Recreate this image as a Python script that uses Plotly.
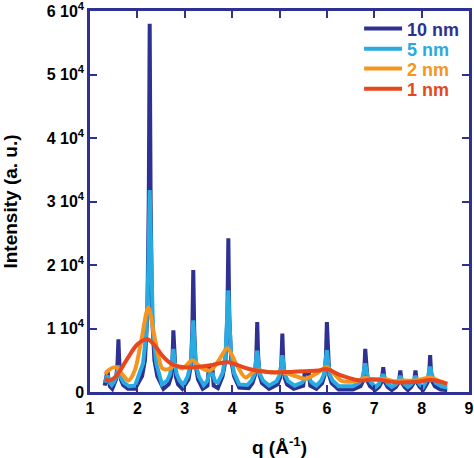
import plotly.graph_objects as go

# ---- data (q in 1/Å, intensity in a.u.) ----
q_10nm = [1.31, 1.33, 1.35, 1.37, 1.39, 1.42, 1.47,
          1.50, 1.55, 1.58, 1.60, 1.62, 1.65, 1.70, 1.80, 1.95,
          2.10, 2.16, 2.21, 2.24, 2.26, 2.28, 2.31, 2.36, 2.42, 2.55,
          2.66, 2.71, 2.74, 2.76, 2.78, 2.81, 2.86, 2.95,
          3.08, 3.13, 3.16, 3.18, 3.20, 3.23, 3.28, 3.38,
          3.48, 3.51, 3.58, 3.61, 3.70,
          3.80, 3.86, 3.90, 3.92, 3.94, 3.98, 4.04, 4.15, 4.35,
          4.43, 4.48, 4.51, 4.53, 4.55, 4.58, 4.63, 4.78,
          4.96, 5.01, 5.04, 5.06, 5.08, 5.11, 5.16, 5.30,
          5.50, 5.53, 5.62, 5.65, 5.78,
          5.90, 5.95, 5.98, 6.00, 6.02, 6.05, 6.10, 6.25, 6.55,
          6.71, 6.76, 6.79, 6.81, 6.83, 6.86, 6.91, 7.02,
          7.10, 7.15, 7.17, 7.19, 7.21, 7.23, 7.28, 7.37,
          7.46, 7.51, 7.53, 7.55, 7.57, 7.59, 7.64, 7.71,
          7.78, 7.83, 7.85, 7.87, 7.89, 7.91, 7.96, 8.03,
          8.08, 8.13, 8.16, 8.18, 8.20, 8.23, 8.28, 8.40, 8.54]
i_10nm = [1000, 1800, 2600, 3400, 2000, 900, 500,
          1100, 2000, 4400, 8300, 4400, 2000, 1100, 500, 500,
          2500, 5000, 12000, 30000, 58000, 30000, 12000, 5000, 2500, 500,
          1200, 2400, 5000, 9700, 5000, 2400, 1200, 500,
          2000, 4200, 9800, 19200, 9800, 4200, 2000, 500,
          1000, 4000, 4200, 1000, 600,
          2500, 5000, 12000, 24200, 12000, 5000, 2500, 700, 600,
          1400, 2600, 5600, 11000, 5600, 2600, 1400, 500,
          1200, 2200, 4800, 9200, 4800, 2200, 1200, 500,
          1000, 2900, 2900, 1000, 500,
          1400, 2600, 5600, 11000, 5600, 2600, 1400, 400, 400,
          900, 1700, 3500, 6800, 3500, 1700, 900, 300,
          800, 1500, 2500, 3900, 2500, 1500, 800, 300,
          800, 1400, 2200, 3400, 2200, 1400, 800, 300,
          800, 1400, 2200, 3400, 2200, 1400, 800, 300,
          900, 1600, 3000, 5800, 3000, 1600, 900, 400, 300]

q_5nm = [1.31, 1.34, 1.37, 1.41, 1.46,
         1.50, 1.55, 1.58, 1.60, 1.62, 1.65, 1.71, 1.82, 1.95,
         2.12, 2.19, 2.23, 2.26, 2.29, 2.33, 2.40, 2.52,
         2.63, 2.69, 2.73, 2.76, 2.79, 2.83, 2.89, 2.97,
         3.06, 3.12, 3.15, 3.18, 3.21, 3.24, 3.30, 3.40,
         3.47, 3.52, 3.59, 3.64, 3.70,
         3.80, 3.86, 3.89, 3.92, 3.95, 3.98, 4.04, 4.15, 4.32,
         4.41, 4.47, 4.50, 4.53, 4.56, 4.59, 4.65, 4.78,
         4.94, 5.00, 5.03, 5.06, 5.09, 5.12, 5.18, 5.32,
         5.48, 5.53, 5.63, 5.68, 5.78,
         5.88, 5.94, 5.97, 6.00, 6.03, 6.06, 6.12, 6.25, 6.55,
         6.69, 6.75, 6.78, 6.81, 6.84, 6.87, 6.93, 7.03,
         7.10, 7.15, 7.19, 7.23, 7.28, 7.37,
         7.46, 7.51, 7.55, 7.59, 7.64, 7.71,
         7.78, 7.83, 7.87, 7.91, 7.96, 8.03,
         8.07, 8.13, 8.15, 8.18, 8.21, 8.24, 8.30, 8.42, 8.54]
i_5nm = [1500, 2100, 2600, 1600, 1100,
         1500, 2300, 3400, 4200, 3400, 2300, 1500, 900, 1000,
         4500, 9500, 19000, 31800, 19000, 9500, 4500, 1200,
         1800, 2800, 4500, 6800, 4500, 2800, 1800, 1100,
         2400, 4200, 7000, 11300, 7000, 4200, 2400, 1100,
         1700, 2800, 2800, 1700, 1500,
         3000, 5800, 10000, 16000, 10000, 5800, 3000, 1200, 1100,
         1800, 2800, 4300, 6500, 4300, 2800, 1800, 1000,
         1700, 2600, 3900, 5800, 3900, 2600, 1700, 1000,
         1500, 2100, 2100, 1500, 1000,
         1800, 2800, 4400, 6600, 4400, 2800, 1800, 900, 900,
         1500, 2200, 3200, 4500, 3200, 2200, 1500, 800,
         1300, 2000, 2800, 2000, 1300, 800,
         1200, 1800, 2500, 1800, 1200, 800,
         1200, 1800, 2500, 1800, 1200, 800,
         1400, 2200, 3000, 4000, 3000, 2200, 1400, 900, 700]

q_2nm = [1.32, 1.40, 1.55, 1.68, 1.81, 1.95, 2.08, 2.23, 2.38, 2.53, 2.65, 2.80, 2.95, 3.16, 3.35, 3.54, 3.72, 3.90,
         4.08, 4.28, 4.50, 4.80, 5.06, 5.30, 5.55, 5.80, 6.00, 6.30, 6.60, 6.81, 7.00, 7.20, 7.40, 7.60, 7.87, 8.18,
         8.35, 8.54]
i_2nm = [2800, 3500, 3900, 2800, 1800, 3500, 8000, 13300, 8000, 3700, 3600, 4200, 3700, 5000, 3800, 3400, 5000, 6900,
         4500, 2300, 3400, 3100, 3100, 2600, 2100, 3000, 3900, 1800, 1700, 2200, 1900, 2100, 1700, 1800, 1800, 2300,
         1800, 1200]

q_1nm = [1.32, 1.40, 1.55, 1.81, 2.00, 2.21, 2.40, 2.53, 2.75, 3.00, 3.20, 3.54, 3.90, 4.32, 4.80, 5.30, 5.82, 6.00,
         6.30, 6.70, 7.00, 7.50, 7.90, 8.20, 8.54]
i_1nm = [2100, 1800, 2500, 5500, 7500, 8300, 7000, 5700, 4300, 3900, 3900, 4200, 4700, 3700, 3100, 3200, 3400, 3600,
         2600, 1800, 2000, 1500, 1600, 1900, 1300]

y_tickvals = [0, 10000, 20000, 30000, 40000, 50000, 60000]
y_ticktext = ["0", "1 10<sup>4</sup>", "2 10<sup>4</sup>", "3 10<sup>4</sup>", "4 10<sup>4</sup>", "5 10<sup>4</sup>", "6 10<sup>4</sup>"]
x_tickvals = [1, 2, 3, 4, 5, 6, 7, 8, 9]

C10 = "#2e3192"
C5 = "#29abe2"
C2 = "#f7941d"
C1 = "#e8461e"
FRAME = "#2e3192"
FONT = "Liberation Sans, Arial, sans-serif"

fig = go.Figure()
fig.add_trace(go.Scatter(x=q_10nm, y=i_10nm, mode="lines", line=dict(color=C10, width=4),
                         name=f"<span style='color:{C10}'><b>10 nm</b></span>", legend="legend"))
fig.add_trace(go.Scatter(x=q_5nm, y=i_5nm, mode="lines", line=dict(color=C5, width=4),
                         name=f"<span style='color:{C5}'><b>5 nm</b></span>", legend="legend2"))
fig.add_trace(go.Scatter(x=q_2nm, y=i_2nm, mode="lines", line=dict(color=C2, width=4, shape="spline", smoothing=0.8),
                         name=f"<span style='color:{C2}'><b>2 nm</b></span>", legend="legend3"))
fig.add_trace(go.Scatter(x=q_1nm, y=i_1nm, mode="lines", line=dict(color=C1, width=4, shape="spline", smoothing=1.0),
                         name=f"<span style='color:{C1}'><b>1 nm</b></span>", legend="legend4"))

def leg(y):
    return dict(x=0.71, y=y, xanchor="left", yanchor="middle", bgcolor="rgba(0,0,0,0)",
                font=dict(size=18, family=FONT), itemwidth=38)

fig.update_layout(
    width=474, height=458,
    margin=dict(l=90, r=5, t=11, b=66, autoexpand=False),
    paper_bgcolor="white", plot_bgcolor="white",
    font=dict(family=FONT, color="black"),
    showlegend=True,
    legend=leg(0.953), legend2=leg(0.900), legend3=leg(0.848), legend4=leg(0.795),
)
fig.update_xaxes(range=[1, 9], tickvals=x_tickvals, showgrid=False, zeroline=False, automargin=False,
                 showline=True, mirror="allticks", linecolor=FRAME, linewidth=2.5,
                 ticks="inside", ticklen=7, tickwidth=1.5, tickcolor=FRAME,
                 tickfont=dict(size=16, family=FONT, weight="bold"),
                 title=dict(text="<b>q (Å<sup>-1</sup>)</b>", font=dict(size=19, family=FONT), standoff=26))
fig.update_yaxes(range=[0, 60000], tickvals=y_tickvals, ticktext=y_ticktext, showgrid=False, zeroline=False,
                 automargin=False, ticklabeloverflow="allow",
                 showline=True, mirror="allticks", linecolor=FRAME, linewidth=2.5,
                 ticks="inside", ticklen=7, tickwidth=1.5, tickcolor=FRAME,
                 tickfont=dict(size=16, family=FONT, weight="bold"),
                 title=dict(text="<b>Intensity (a. u.)</b>", font=dict(size=19, family=FONT), standoff=27))

fig.write_html("out.html", config={"displayModeBar": False},
               post_script="document.body.style.margin='0';document.body.style.overflow='hidden';")
